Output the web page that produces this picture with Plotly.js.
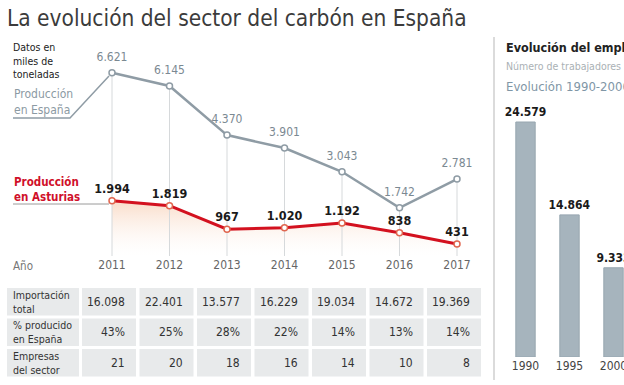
<!DOCTYPE html>
<html><head><meta charset="utf-8">
<script src="https://cdn.plot.ly/plotly-3.0.1.min.js"></script>
<style>html,body{margin:0;padding:0;background:#fff;overflow:hidden}#chart{width:624px;height:385px}</style>
</head><body><div id="chart"></div>
<script>
// ---- data ----
const years = [2011, 2012, 2013, 2014, 2015, 2016, 2017];
const produccionEspana = [6621, 6145, 4370, 3901, 3043, 1742, 2781];
const produccionAsturias = [1994, 1819, 967, 1020, 1192, 838, 431];
const importacionTotal = [16098, 22401, 13577, 16229, 19034, 14672, 19369];
const pctProducidoEspana = [43, 25, 28, 22, 14, 13, 14];
const empresasSector = [21, 20, 18, 16, 14, 10, 8];
const tableRowLabels = ['Importación<br>total', '% producido<br>en España', 'Empresas<br>del sector'];
const empleoYears = ['1990', '1995', '2000'];
const empleoTrabajadores = [24579, 14864, 9333];

// ---- helpers ----
const W = 624, H = 385;
const FONT = '"Liberation Sans Narrow", "DejaVu Sans Condensed", Roboto, sans-serif';
const px = x => x / W, py = y => 1 - y / H;
const fmt = n => String(n).replace(/\B(?=(\d{3})+(?!\d))/g, '.');

// line chart axis geometry
const X0 = 60, X1 = 490, YEARPX = 57.5, Y2011PX = 112;
const xr = [years[0] - (Y2011PX - X0) / YEARPX, years[years.length - 1] + (X1 - (Y2011PX + 6 * YEARPX)) / YEARPX];
const yTopPx = 40, yZeroPx = 256, perUnit = 135 / 4879;
const yr = [0, (yZeroPx - yTopPx) / perUnit];

const traces = [];
// fill under Asturias
traces.push({
  x: years, y: produccionAsturias, mode: 'lines', line: {width: 0},
  fill: 'tozeroy',
  fillgradient: {type: 'vertical', start: 0, stop: 2000,
    colorscale: [[0, 'rgba(255,255,255,0.2)'], [1, 'rgba(249,218,198,0.95)']]},
  hoverinfo: 'skip', xaxis: 'x', yaxis: 'y'
});
// vertical guides
const gx = [], gy = [];
years.forEach((yv, i) => { gx.push(yv, yv, null); gy.push(produccionEspana[i], 0, null); });
traces.push({x: gx, y: gy, mode: 'lines', line: {color: '#d6d9db', width: 1}, xaxis: 'x', yaxis: 'y', hoverinfo: 'skip'});
// España line
traces.push({
  x: years, y: produccionEspana, mode: 'lines+markers',
  line: {color: '#8f9ca5', width: 2.5},
  marker: {size: 6, color: '#ffffff', line: {color: '#8f9ca5', width: 1.5}},
  xaxis: 'x', yaxis: 'y', cliponaxis: false
});
// España value labels (transparent markers give the label offset)
traces.push({
  x: years, y: produccionEspana, mode: 'markers+text',
  marker: {size: 13, opacity: 0},
  text: produccionEspana.map(fmt), textposition: 'top center',
  textfont: {family: FONT, size: 12, color: '#7b8992'},
  xaxis: 'x', yaxis: 'y', cliponaxis: false
});
// Asturias line
traces.push({
  x: years, y: produccionAsturias, mode: 'lines+markers+text',
  line: {color: '#d3111f', width: 3},
  marker: {size: 6, color: '#ffffff', line: {color: '#e0664f', width: 1.5}},
  text: produccionAsturias.map(fmt), textposition: 'top center',
  textfont: {family: FONT, size: 12.5, color: '#1a1a1a', weight: 700},
  xaxis: 'x', yaxis: 'y', cliponaxis: false
});
// employment bars
traces.push({
  type: 'bar', x: empleoYears, y: empleoTrabajadores, width: 0.44,
  marker: {color: '#a6b4bd', line: {color: '#97a6b0', width: 1}},
  text: empleoTrabajadores.map(fmt), textposition: 'outside', cliponaxis: false, constraintext: 'none',
  textfont: {family: FONT, size: 12, color: '#1a1a1a', weight: 700},
  xaxis: 'x2', yaxis: 'y2'
});

// ---- shapes ----
const shapes = [];
const rowsPx = [[288, 315.5], [318.5, 346], [349, 376.5]];
rowsPx.forEach(r => {
  shapes.push({type: 'rect', xref: 'paper', yref: 'paper', x0: px(7), x1: px(79), y0: py(r[1]), y1: py(r[0]),
    fillcolor: '#e8eaeb', line: {width: 0}, layer: 'below'});
  years.forEach(yv => {
    shapes.push({type: 'rect', xref: 'x', yref: 'paper', x0: yv - 30 / YEARPX, x1: yv + 24 / YEARPX, y0: py(r[1]), y1: py(r[0]),
      fillcolor: '#e8eaeb', line: {width: 0}, layer: 'below'});
  });
});
// divider
shapes.push({type: 'line', xref: 'paper', yref: 'paper', x0: px(494), x1: px(494), y0: py(37), y1: py(380),
  line: {color: '#cfcfcf', width: 1.5}});
// leader lines
shapes.push({type: 'path', xref: 'paper', yref: 'paper',
  path: `M ${px(13)} ${py(118)} L ${px(70)} ${py(118)} L ${px(109)} ${py(76)}`,
  line: {color: '#8f9ca5', width: 1.5}});
shapes.push({type: 'line', xref: 'paper', yref: 'paper', x0: px(13), x1: px(109), y0: py(204), y1: py(204),
  line: {color: '#9a9a9a', width: 1}});

// ---- annotations ----
const ann = [];
const A = (o) => ann.push(Object.assign({showarrow: false, xref: 'paper', yref: 'paper', xanchor: 'left', yanchor: 'middle', align: 'left'}, o));
A({x: px(11), y: py(61), text: 'Datos en<br>miles de<br>toneladas', font: {family: FONT, size: 10.5, color: '#222'}});
A({x: px(12), y: py(102), text: 'Producción<br>en España', font: {family: FONT, size: 12, color: '#8c9aa3'}});
A({x: px(12), y: py(190), text: 'Producción<br>en Asturias', font: {family: FONT, size: 11.5, color: '#d0102a', weight: 700}});
A({x: px(11), y: py(266), text: 'Año', font: {family: FONT, size: 11.5, color: '#777'}});
const rowVals = [importacionTotal.map(fmt), pctProducidoEspana.map(v => v + '%'), empresasSector.map(String)];
rowsPx.forEach((r, ri) => {
  const cy = py((r[0] + r[1]) / 2);
  A({x: px(11), y: cy, text: tableRowLabels[ri], font: {family: FONT, size: 10.5, color: '#333'}});
  years.forEach((yv, i) => {
    ann.push({showarrow: false, xref: 'x', yref: 'paper', x: yv, xshift: 15, xanchor: 'right', y: cy, yanchor: 'middle',
      text: rowVals[ri][i], font: {family: FONT, size: 12, color: '#333'}});
  });
});
A({x: px(504), y: py(47), text: 'Evolución del empleo', font: {family: FONT, size: 12.5, color: '#222', weight: 700}});
A({x: px(504), y: py(66), text: 'Número de trabajadores', font: {family: FONT, size: 10.5, color: '#aab1b5'}});
A({x: px(504), y: py(87), text: 'Evolución 1990-2000', font: {family: FONT, size: 13, color: '#7f96a6'}});

const layout = {
  width: W, height: H, margin: {l: 0, r: 0, t: 0, b: 0},
  paper_bgcolor: '#fff', plot_bgcolor: 'rgba(0,0,0,0)',
  showlegend: false, separators: ',.',
  font: {family: FONT, color: '#444'},
  title: {text: 'La evolución del sector del carbón en España', x: px(7), xanchor: 'left', y: py(18), yanchor: 'middle',
    font: {family: FONT, size: 22.5, color: '#3b3b3b'}},
  xaxis: {domain: [px(X0), px(X1)], range: xr, tickvals: years, ticktext: years.map(String), ticks: '',
    showgrid: false, zeroline: false, showline: false, tickfont: {family: FONT, size: 12, color: '#666'}, anchor: 'y'},
  yaxis: {domain: [py(yZeroPx), py(yTopPx)], range: yr, visible: false, anchor: 'x'},
  xaxis2: {domain: [px(500), 1], type: 'category', range: [-(525.5 - 500) / 44, 2 + (624 - 613.5) / 44], ticks: '',
    showgrid: false, zeroline: false, showline: false, tickfont: {family: FONT, size: 12, color: '#444'}, anchor: 'y2'},
  yaxis2: {domain: [py(357), py(100)], range: [0, (357 - 100) / (235 / 24579)], visible: false, anchor: 'x2'},
  shapes: shapes, annotations: ann
};
Plotly.newPlot('chart', traces, layout, {staticPlot: true, displayModeBar: false});
</script>
</body></html>
